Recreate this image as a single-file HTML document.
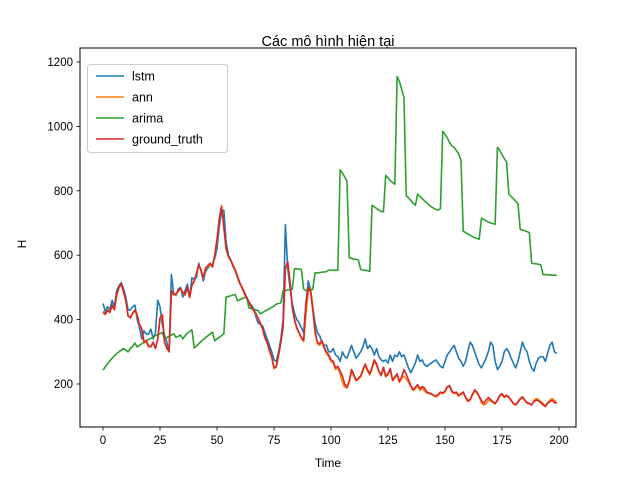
<!DOCTYPE html>
<html><head><meta charset="utf-8"><style>
body{margin:0;background:#fff;}
svg{display:block;font-family:"Liberation Sans","DejaVu Sans",sans-serif;}
</style></head><body>
<svg id="chart" width="640" height="480" viewBox="0 0 640 480">
<rect width="640" height="480" fill="#fff"/>
<text x="328" y="46" text-anchor="middle" font-size="14.5" fill="#000">Các mô hình hiện tại</text>
<g id="series"></g>
<rect x="80" y="48" width="496" height="379" fill="none" stroke="#000" stroke-width="1"/>
<g id="xticks"></g>
<g id="yticks"></g>
<text x="328" y="467" text-anchor="middle" font-size="12">Time</text>
<text x="26" y="244" text-anchor="middle" font-size="12" transform="rotate(-90 26 244)">H</text>
<g>
<rect x="87.5" y="64.5" width="140" height="88" rx="3" fill="#fff" fill-opacity="0.8" stroke="#ccc"/>
<g id="legend-items"></g>
</g>
</svg>
<script>
const xTicks=[0,25,50,75,100,125,150,175,200];
const yTicks=[200,400,600,800,1000,1200];
const seriesNames=["lstm","ann","arima","ground_truth"];
const seriesColors=["#1f77b4","#ff7f0e","#2ca02c","#d62728"];
const lstm=[450,425,440,430,460,440,490,505,515,495,470,430,430,440,445,400,375,340,365,355,355,370,340,360,460,440,385,350,330,300,540,480,475,495,500,470,490,510,470,530,525,530,575,550,520,550,560,570,570,590,620,690,735,740,640,600,585,565,550,530,510,500,485,470,455,445,435,410,390,385,380,360,340,320,300,275,270,300,340,400,695,560,500,450,420,400,390,375,360,450,520,495,440,390,360,350,330,320,320,300,300,310,290,285,270,300,285,280,300,320,300,280,290,300,315,340,310,320,310,290,310,285,275,270,275,265,290,270,290,285,300,285,290,270,250,235,250,265,290,270,275,260,255,260,265,270,275,265,255,250,270,290,300,310,320,300,280,270,255,270,300,330,320,300,280,260,250,265,280,300,330,320,270,245,255,270,300,310,300,280,265,250,270,300,330,310,300,270,250,240,265,280,285,285,270,295,320,330,300,295];
const ann=[420,415,430,425,440,430,475,498,510,485,458,410,408,418,428,412,382,370,328,330,315,318,328,312,338,400,412,328,310,302,488,476,478,488,495,483,476,498,468,505,518,542,568,552,528,558,565,572,562,598,645,715,755,685,618,595,582,568,552,532,512,498,480,466,452,438,428,418,402,388,370,342,328,302,282,248,252,288,328,378,555,578,518,438,398,372,358,342,332,415,485,495,440,360,325,320,330,310,295,285,270,265,245,250,232,205,190,188,205,240,225,210,215,222,240,258,240,228,248,270,258,238,225,248,222,228,245,210,218,228,205,218,225,215,205,192,180,185,195,180,188,178,172,170,168,164,160,165,172,170,175,190,192,175,170,172,162,168,172,158,145,150,165,178,172,160,142,135,138,150,148,142,138,148,162,168,158,162,158,148,138,135,142,152,158,148,140,138,135,148,155,152,145,140,132,142,150,155,148,145];
const arima=[243,253,263,272,280,287,294,300,305,310,305,300,310,318,327,315,320,325,330,335,338,342,346,350,353,356,360,340,344,348,352,356,345,348,352,340,350,358,363,368,312,318,325,332,338,344,350,355,361,334,340,345,350,356,470,472,474,476,478,458,462,465,468,470,436,434,432,430,428,418,422,426,430,434,438,442,448,450,452,490,490,492,493,494,558,558,557,556,495,490,492,493,494,545,545,546,547,548,549,554,554,553,553,553,865,855,843,830,592,590,588,587,585,556,554,553,552,550,755,750,745,740,736,735,848,840,832,826,820,1155,1140,1115,1090,785,778,770,762,755,790,783,776,769,762,756,750,746,742,740,745,985,975,965,950,940,935,925,915,895,675,670,666,662,658,655,652,650,715,711,707,703,700,698,696,935,925,912,900,890,790,782,775,768,760,680,678,676,673,670,575,574,573,572,570,540,540,539,539,538,538,538];
const groundTruth=[425,418,428,422,445,432,478,500,512,488,460,412,405,420,430,415,385,372,330,335,318,315,330,310,340,405,415,330,312,300,490,478,480,490,497,485,478,500,470,508,520,545,570,555,530,560,568,575,565,600,650,710,750,690,620,598,585,570,555,535,515,500,482,468,455,440,430,420,405,390,372,345,330,305,285,250,255,290,330,380,560,580,520,440,400,375,360,345,335,450,500,490,430,365,330,325,335,315,300,290,275,270,250,255,240,225,200,190,210,245,230,212,218,225,245,262,245,232,252,275,262,240,228,252,225,232,248,212,222,232,208,222,245,230,212,195,182,190,198,185,192,188,175,172,170,165,162,168,175,172,178,192,195,178,172,175,165,170,175,160,148,152,168,182,175,162,148,140,150,158,152,145,140,150,165,170,160,165,160,150,140,135,145,155,160,150,142,140,135,145,150,148,142,135,130,140,145,150,142,140];

const NS="http://www.w3.org/2000/svg";
function xs(v){return 103+v*(559-103)/200;}
function ys(v){return 384-(v-200)*(384-62)/1000;}
function mk(tag,attrs,parent){const e=document.createElementNS(NS,tag);for(const k in attrs)e.setAttribute(k,attrs[k]);parent.appendChild(e);return e;}
const xg=document.getElementById('xticks');
xTicks.forEach(t=>{
  const l=mk('line',{x1:xs(t),x2:xs(t),y1:427,y2:430.5,stroke:'#000','stroke-width':0.8},xg);
  
  
  const tx=mk('text',{x:xs(t),y:444,'text-anchor':'middle','font-size':'11.5'},xg);
  tx.textContent=t;
  
  
});
const yg=document.getElementById('yticks');
yTicks.forEach(t=>{
  const l=mk('line',{x1:76.5,x2:80,y1:ys(t),y2:ys(t),stroke:'#000','stroke-width':0.8},yg);
  
  
  const tx=mk('text',{x:73,y:ys(t)+4,'text-anchor':'end','font-size':'11.5'},yg);
  tx.textContent=t;
  
  
});
const sg=document.getElementById('series');
[lstm,ann,arima,groundTruth].forEach((arr,i)=>{
  const d=arr.map((v,j)=>(j?'L':'M')+xs(j).toFixed(2)+' '+ys(v).toFixed(2)).join(' ');
  const p=mk('path',{d:d,fill:'none',stroke:seriesColors[i],'stroke-width':1.6,'stroke-linejoin':'round'},sg);
  
  
});
const lg=document.getElementById('legend-items');
seriesNames.forEach((n,i)=>{
  const y=76+i*21;
  const l=mk('line',{x1:96,x2:124,y1:y,y2:y,stroke:seriesColors[i],'stroke-width':1.6},lg);
  
  
  const t=mk('text',{x:132,y:y+4.5,'font-size':'12.5'},lg);
  t.textContent=n;
  
  
});
</script>
</body></html>
